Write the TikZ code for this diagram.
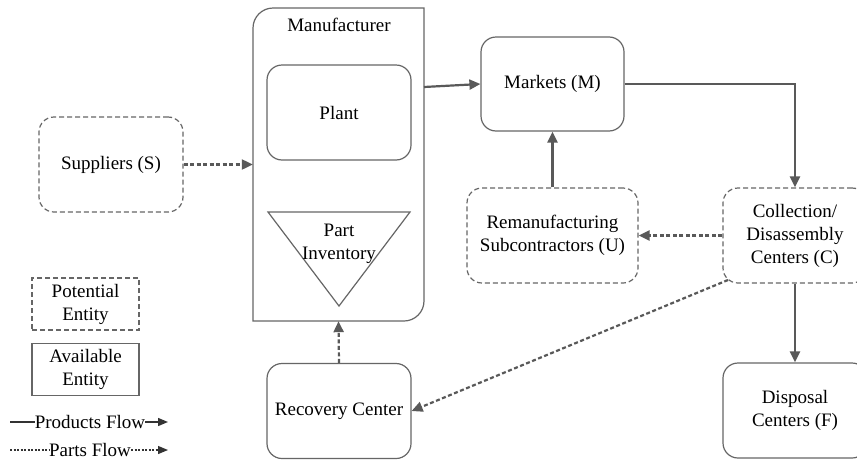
\documentclass[tikz,border=0pt]{standalone}
\usepackage{fontspec}
\setmainfont{LiberationSerif}[Extension=.ttf, UprightFont=*-Regular, BoldFont=*-Bold, ItalicFont=*-Italic, BoldItalicFont=*-BoldItalic]
\usetikzlibrary{arrows.meta}
\definecolor{ln}{HTML}{595959}
\definecolor{bx}{HTML}{666666}
\begin{document}
\begin{tikzpicture}[x=1pt,y=-1pt,
  txt/.style={font=\fontsize{19}{23}\selectfont, align=center, text=black},
  avail/.style={txt, draw=bx, line width=1.2pt, rounded corners=15pt, minimum width=144pt, minimum height=95pt, inner sep=0pt},
  potent/.style={avail, dash pattern=on 5pt off 3pt},
  legbox/.style={txt, draw=bx, line width=1.2pt, minimum width=107pt, minimum height=52pt, inner sep=0pt},
  prod/.style={draw=ln, line width=2.2pt, -{Triangle[length=11pt,width=10pt]}},
  part/.style={draw=ln, line width=2.2pt, dash pattern=on 4pt off 2.5pt, -{Triangle[length=11pt,width=10pt]}},
  legprod/.style={draw=black!80, line width=1.4pt},
  legpart/.style={draw=black!80, line width=1.2pt, dash pattern=on 2pt off 1.5pt}
]
\useasboundingbox (0,0) rectangle (857,461);
\clip (0,0) rectangle (857,461);
\fill[white] (0,0) rectangle (857,461);

% Manufacturer
\node[minimum width=171pt, minimum height=313pt, inner sep=0pt] (man) at (338.5,164.5) {};
\draw[bx, line width=1.2pt] (253,321) -- (253,28) .. controls (253,17) and (262,8) .. (273,8) -- (424,8) -- (424,301) .. controls (424,312) and (415,321) .. (404,321) -- cycle;
\node[txt] (manlbl) at (339,25) {Manufacturer};
\node[avail] (plant) at (339,112.5) {Plant};
\draw[bx, line width=1.2pt] (268,212) -- (410,212) -- (339,306) -- cycle;
\node[txt] (inv) at (339,244) {Part\\Inventory};

% Entities
\node[potent] (sup) at (111,164.5) {Suppliers (S)};
\node[avail, minimum width=143pt, minimum height=94pt] (mkt) at (552.5,84) {Markets (M)};
\node[potent, minimum width=171pt] (rem) at (552.5,235.5) {Remanufacturing\\Subcontractors (U)};
\node[potent] (col) at (795,235.5) {Collection/\\Disassembly\\Centers (C)};
\node[avail] (dis) at (795,410.5) {Disposal\\Centers (F)};
\node[avail] (rec) at (339,411) {Recovery Center};

% Flows
\coordinate (mo) at (424,87);
\coordinate (cs) at (728,280);
\draw[part] (sup.east) -- (sup.east -| man.west);
\draw[prod] (mo) -- (mkt.west);
\draw[prod] (mkt.east) -| (col.north);
\draw[prod] (rem.north) -- (mkt.south);
\draw[part] (col.west) -- (rem.east);
\draw[prod] (col.south) -- (dis.north);
\draw[part] (cs) -- (rec.east);
\draw[part] (rec.north) -- (man.south);

% Legend
\node[legbox, dash pattern=on 5pt off 3pt] (lp) at (85.5,304) {Potential\\Entity};
\node[legbox] (la) at (85.5,369.5) {Available\\Entity};
\node[txt, inner sep=0pt] (lpf) at (90,422) {Products Flow};
\node[txt, inner sep=0pt] (lpa) at (90,450) {Parts Flow};
\coordinate (lpf1) at (10,422);
\coordinate (lpf2) at (168,422);
\coordinate (lpa1) at (10,450);
\coordinate (lpa2) at (168,450);
\draw[legprod] (lpf1) -- (lpf.west);
\draw[legprod, -{Triangle[length=10pt,width=8pt]}] (lpf.east) -- (lpf2);
\draw[legpart] (lpa1) -- (lpa.west);
\draw[legpart, -{Triangle[length=10pt,width=8pt]}] (lpa.east) -- (lpa2);
\end{tikzpicture}
\end{document}
